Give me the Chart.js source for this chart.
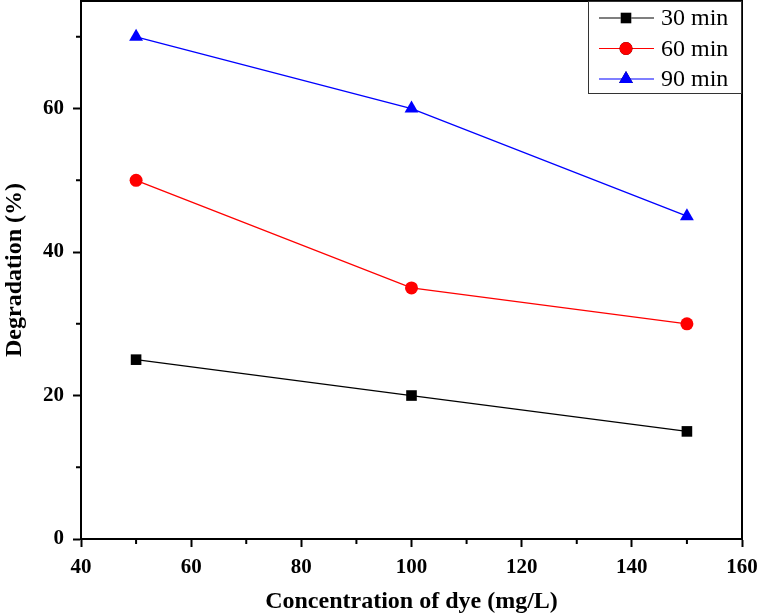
<!DOCTYPE html>
<html>
<head>
<meta charset="utf-8">
<script src="https://cdn.jsdelivr.net/npm/chart.js@4"></script>
<style>
  html, body { margin: 0; padding: 0; background: #fff; }
  #wrap { width: 757px; height: 616px; position: relative; }
</style>
</head>
<body>
<div id="wrap"><canvas id="degChart"></canvas></div>
<script>
const concentrations = [50, 100, 150];
const deg30 = [25, 20, 15];
const deg60 = [50, 35, 30];
const deg90 = [70, 60, 45];
const seriesNames = ["30 min", "60 min", "90 min"];
const xTicks = [40, 60, 80, 100, 120, 140, 160];
const xMinor = [50, 70, 90, 110, 130, 150];
const yTicks = [0, 20, 40, 60];
const yMinor = [10, 30, 50, 70];

const serif = "'Liberation Serif', 'Times New Roman', serif";

function toPoints(ys) {
    return concentrations.map((x, i) => ({ x: x, y: ys[i] }));
}

// minor ticks, plot frame and the boxed legend
const extras = {
    id: "extras",
    afterDraw(chart) {
        const c = chart.ctx;
        const a = chart.chartArea;
        const xs = chart.scales.x, ys = chart.scales.y;
        c.save();
        c.strokeStyle = "#000";
        c.lineWidth = 2;
        c.beginPath();
        xMinor.forEach(v => {
            const px = xs.getPixelForValue(v);
            c.moveTo(px, a.bottom);
            c.lineTo(px, a.bottom + 5);
        });
        yMinor.forEach(v => {
            const py = ys.getPixelForValue(v);
            c.moveTo(a.left, py);
            c.lineTo(a.left - 5, py);
        });
        c.stroke();
        c.strokeRect(a.left, a.top, a.right - a.left, a.bottom - a.top);

        // legend
        const bx = 588, by = 1, bw = 153, bh = 92;
        c.fillStyle = "#fff";
        c.fillRect(bx, by, bw, bh);
        c.lineWidth = 1;
        c.strokeStyle = "#333";
        c.strokeRect(bx + 0.5, by + 0.5, bw, bh);
        chart.data.datasets.forEach((ds, i) => {
            const yy = 18 + i * 30.5;
            c.strokeStyle = ds.borderColor;
            c.lineWidth = 1.2;
            c.beginPath();
            c.moveTo(599, yy);
            c.lineTo(654, yy);
            c.stroke();
            Chart.helpers.drawPoint(c, {
                pointStyle: ds.pointStyle,
                radius: ds.pointRadius,
                borderWidth: 0
            }, 626, yy);
            c.fillStyle = ds.backgroundColor;
            c.fill();
            c.fillStyle = "#000";
            c.font = "24px " + serif;
            c.textBaseline = "middle";
            c.textAlign = "left";
            c.fillText(ds.label, 661, yy + 1);
        });
        c.restore();
    }
};

const ctx = document.getElementById("degChart").getContext("2d");
const degChart = new Chart(ctx, {
    type: "line",
    data: {
        datasets: [
            {
                label: seriesNames[0],
                data: toPoints(deg30),
                borderColor: "#000000",
                backgroundColor: "#000000",
                pointStyle: "rect",
                pointRadius: 7.5,
            },
            {
                label: seriesNames[1],
                data: toPoints(deg60),
                borderColor: "#ff0000",
                backgroundColor: "#ff0000",
                pointStyle: "circle",
                pointRadius: 6.5,
            },
            {
                label: seriesNames[2],
                data: toPoints(deg90),
                borderColor: "#0000ff",
                backgroundColor: "#0000ff",
                pointStyle: "triangle",
                pointRadius: 8,
            },
        ],
    },
    options: {
        responsive: true,
        maintainAspectRatio: false,
        animation: false,
        elements: {
            line: { borderWidth: 1.3, tension: 0 },
            point: { borderWidth: 0, hoverRadius: 7 },
        },
        layout: { autoPadding: false, padding: { top: 1, right: 15, left: 0, bottom: 0 } },
        plugins: {
            legend: { display: false },
            tooltip: { enabled: false },
        },
        scales: {
            x: {
                type: "linear",
                min: 40,
                max: 160,
                afterBuildTicks: s => { s.ticks = xTicks.map(v => ({ value: v })); },
                afterFit: s => { s.height = 77; s.paddingLeft = 0; s.paddingRight = 0; },
                border: { color: "#000", width: 2 },
                grid: { drawOnChartArea: false, tickLength: 8, tickWidth: 2, tickColor: "#000" },
                ticks: { color: "#000", padding: 8, maxRotation: 0, font: { family: serif, size: 21, weight: "bold" } },
                title: {
                    display: true,
                    text: "Concentration of dye (mg/L)",
                    color: "#000",
                    padding: { top: 2, bottom: 0 },
                    font: { family: serif, size: 24, weight: "bold" },
                },
            },
            y: {
                min: 0,
                max: 75,
                afterBuildTicks: s => { s.ticks = yTicks.map(v => ({ value: v })); },
                afterFit: s => { s.width = 81; s.paddingTop = 0; s.paddingBottom = 0; },
                border: { color: "#000", width: 2 },
                grid: { drawOnChartArea: false, tickLength: 8, tickWidth: 2, tickColor: "#000" },
                ticks: { color: "#000", padding: 9, font: { family: serif, size: 21, weight: "bold" } },
                title: {
                    display: true,
                    text: "Degradation (%)",
                    color: "#000",
                    padding: { top: 0, bottom: 0 },
                    font: { family: serif, size: 24, weight: "bold" },
                },
            },
        },
    },
    plugins: [extras],
});
</script>
</body>
</html>
